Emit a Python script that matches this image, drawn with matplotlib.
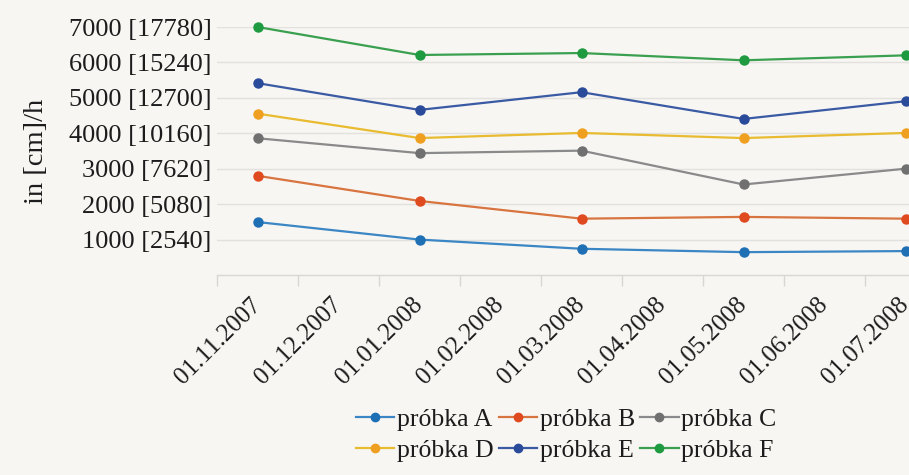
import matplotlib
matplotlib.use("Agg")
import matplotlib.pyplot as plt
from matplotlib.lines import Line2D
from matplotlib.transforms import ScaledTranslation

# ---- data ----
categories = ["01.11.2007", "01.12.2007", "01.01.2008", "01.02.2008", "01.03.2008",
              "01.04.2008", "01.05.2008", "01.06.2008", "01.07.2008"]
point_idx = [0, 2, 4, 6, 8]  # categories that carry measurements
series_names = ["próbka A", "próbka B", "próbka C", "próbka D", "próbka E", "próbka F"]
probka_A = [1495, 1000, 740, 645, 675]
probka_B = [2800, 2090, 1590, 1640, 1590]
probka_C = [3860, 3440, 3510, 2555, 3000]
probka_D = [4555, 3865, 4010, 3865, 4010]
probka_E = [5415, 4660, 5160, 4405, 4905]
probka_F = [7000, 6210, 6265, 6060, 6200]
y_ticks = [1000, 2000, 3000, 4000, 5000, 6000, 7000]
y_ticklabels = ["1000 [2540]", "2000 [5080]", "3000 [7620]", "4000 [10160]",
                "5000 [12700]", "6000 [15240]", "7000 [17780]"]
y_label = "in [cm]/h"

series_values = [probka_A, probka_B, probka_C, probka_D, probka_E, probka_F]
marker_colors = ["#1f6fb5", "#e04a1f", "#707070", "#f0a020", "#2a4a9a", "#1e9a40"]
line_colors = ["#3b86c4", "#d8743f", "#8a8a8a", "#e8bb30", "#3a5aa4", "#3aa050"]

bg = "#f8f6f3"
txt = "#1c1c1c"
plt.rcParams["font.family"] = ["Liberation Serif", "DejaVu Serif"]

fig = plt.figure(figsize=(9.09, 4.75), dpi=100, facecolor=bg)
ax = fig.add_axes([217 / 909, 200 / 475, (946 - 217) / 909, (275 - 27) / 475])
ax.set_facecolor(bg)

handles = []
for name, vals, mc, lc in zip(series_names, series_values, marker_colors, line_colors):
    ax.plot(point_idx, vals, color=lc, lw=1.6, zorder=3, clip_on=False)
    ax.plot(point_idx, vals, ls="none", marker="o", ms=6.5, color=mc, zorder=4, clip_on=False)
    handles.append(Line2D([0], [0], color=lc, lw=1.6, marker="o", ms=6, mfc=mc, mec=mc))

ax.set_xlim(-0.5, len(categories) - 0.5)
ax.set_ylim(0, 7000)

# y axis
ax.set_yticks(y_ticks)
ax.set_yticklabels(y_ticklabels, fontsize=19, color=txt)
ax.tick_params(axis="y", length=0, pad=4)
ax.yaxis.grid(True, color="#e3e1de", lw=1.0)
ax.set_axisbelow(True)
ax.set_ylabel(y_label, fontsize=20.5, color=txt, labelpad=14)

# x axis: boundary ticks and centered labels
ax.set_xticks([i - 0.5 for i in range(len(categories) + 1)])
ax.set_xticklabels([])
ax.tick_params(axis="x", which="major", length=8, color="#d9d7d4", width=1)
ax.set_xticks(list(range(len(categories))), minor=True)
ax.set_xticklabels(categories, minor=True, rotation=45, ha="right",
                   rotation_mode="anchor", fontsize=18, color=txt)
ax.tick_params(axis="x", which="minor", length=0, pad=15)
offset = ScaledTranslation(-8 / 100, 2 / 100, fig.dpi_scale_trans)
for lbl in ax.get_xticklabels(minor=True):
    lbl.set_transform(lbl.get_transform() + offset)

for s in ["top", "right", "left"]:
    ax.spines[s].set_visible(False)
ax.spines["bottom"].set_color("#d9d7d4")
ax.spines["bottom"].set_linewidth(1)

order = [0, 3, 1, 4, 2, 5]
fig.legend([handles[i] for i in order], [series_names[i] for i in order],
           ncol=3, loc="center", bbox_to_anchor=(566 / 909, 1 - 435 / 475),
           frameon=False, fontsize=18.5, handlelength=1.5, handletextpad=0.1,
           columnspacing=0.2, labelspacing=0.35, labelcolor=txt)

fig.savefig("out.png", dpi=100, facecolor=bg)
